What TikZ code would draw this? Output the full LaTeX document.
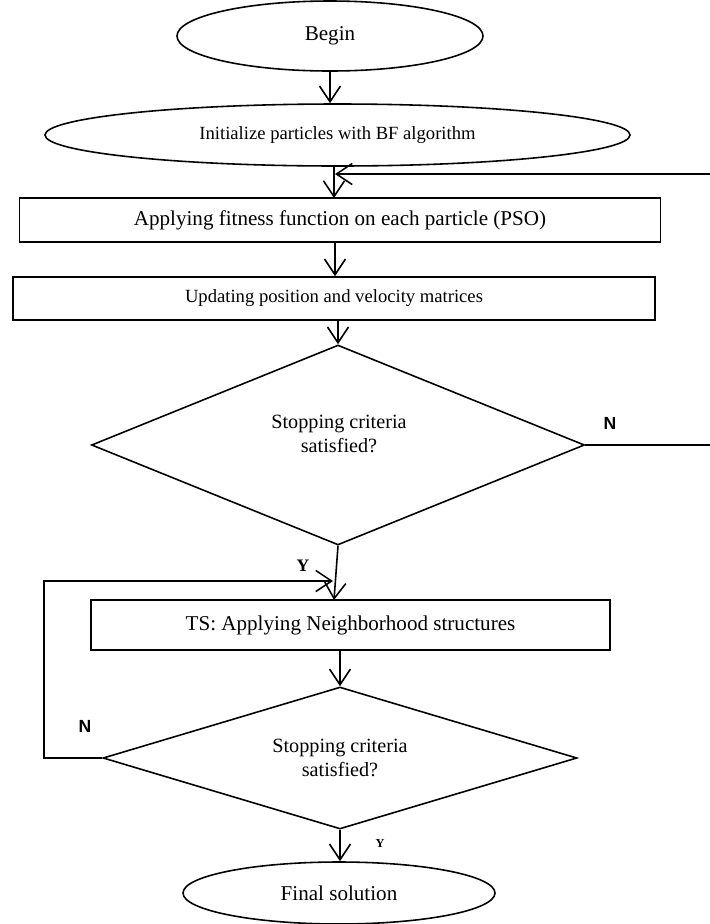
\documentclass[tikz,border=0pt]{standalone}
\usepackage{fontspec}
\setmainfont{Liberation Serif}
\setsansfont{Liberation Sans}
\usepackage{tikz}
\usetikzlibrary{shapes.geometric,arrows.meta}

\begin{document}
\begin{tikzpicture}[x=0.02cm,y=0.02cm,line width=0.9pt,
    terminal/.style={ellipse,draw,inner sep=0pt,align=center},
    process/.style={rectangle,draw,inner sep=0pt,align=center},
    decision/.style={diamond,draw,inner sep=0pt,aspect=2.5,align=center},
    flow/.style={-{Straight Barb[length=9pt,width=12pt,line width=0.9pt]}},
    answer/.style={font=\sffamily\bfseries\fontsize{10}{12}\selectfont}]
    \clip (0,0) rectangle (710,-924);

    \node[terminal,minimum width=306*0.02cm,minimum height=70*0.02cm,font=\fontsize{12}{14}\selectfont] (begin) at (330,-36) {Begin};
    \node[terminal,minimum width=585*0.02cm,minimum height=62*0.02cm,font=\fontsize{10.6}{13}\selectfont] (init) at (337.5,-135) {Initialize particles with BF algorithm};
    \node[process,minimum width=641*0.02cm,minimum height=44*0.02cm,font=\fontsize{12}{14}\selectfont] (fitness) at (340,-220) {Applying fitness function on each particle (PSO)};
    \node[process,minimum width=642*0.02cm,minimum height=43*0.02cm,font=\fontsize{10.6}{13}\selectfont] (update) at (334,-298.5) {Updating position and velocity matrices};
    \node[decision,minimum width=493*0.02cm,minimum height=200*0.02cm] (stop1) at (338,-445) {};
    \node[align=center,font=\fontsize{11.5}{14}\selectfont] (stop1txt) at (339,-434) {Stopping criteria\\satisfied?};
    \node[process,minimum width=519*0.02cm,minimum height=50*0.02cm,font=\fontsize{12}{14}\selectfont] (ts) at (350.5,-625) {TS: Applying Neighborhood structures};
    \node[decision,minimum width=474*0.02cm,minimum height=142*0.02cm,font=\fontsize{11.5}{14}\selectfont] (stop2) at (340,-758) {Stopping criteria\\satisfied?};
    \node[terminal,minimum width=312*0.02cm,minimum height=62*0.02cm,font=\fontsize{12}{14}\selectfont] (final) at (339,-893) {Final solution};

    \coordinate (backR) at (712,-174);
    \coordinate (backL) at (44,-581);

    \draw[flow] (begin.south) -- (begin.south |- init.north);
    \draw[flow] (334,-166) -- (334,-198);
    \draw[flow] (fitness.south -| 335,0) -- (update.north -| 335,0);
    \draw[flow] (update.south -| stop1.north) -- (stop1.north);
    \draw[flow] (stop1.south) -- (334,-600);
    \draw[flow] (ts.south -| stop2.north) -- (stop2.north);
    \draw[flow] (stop2.south) -- (final.north -| stop2.south);

    % loop back to PSO
    \draw[flow] (stop1.east) -- (stop1.east -| backR) -- (backR) -- (335,-174);
    \node[answer] (n1) at (610,-423) {N};
    % loop back to TS
    \draw[flow] (stop2.west) -- (stop2.west -| backL) -- (backL) -- (333,-581);
    \node[answer] (n2) at (85,-726) {N};

    \node[font=\bfseries\fontsize{10}{12}\selectfont] (y1) at (303,-566) {Y};
    \node[font=\bfseries\scriptsize] (y2) at (380,-843) {Y};
\end{tikzpicture}
\end{document}
